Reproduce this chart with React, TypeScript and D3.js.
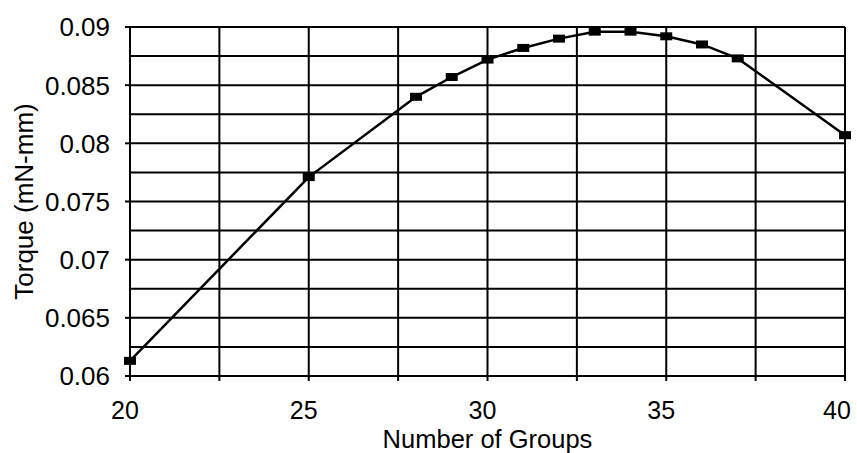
import React from "react";
import * as d3 from "d3";

const groups = [20, 25, 28, 29, 30, 31, 32, 33, 34, 35, 36, 37, 40];
const torque = [0.0613, 0.0771, 0.084, 0.0857, 0.0872, 0.0882, 0.089, 0.0896, 0.0896, 0.0892, 0.0885, 0.0873, 0.0807];
const xTicks = [20, 25, 30, 35, 40];
const xGrid = [20, 22.5, 25, 27.5, 30, 32.5, 35, 37.5, 40];
const yTicks = [0.06, 0.065, 0.07, 0.075, 0.08, 0.085, 0.09];
const yGrid = [0.06, 0.0625, 0.065, 0.0675, 0.07, 0.0725, 0.075, 0.0775, 0.08, 0.0825, 0.085, 0.0875, 0.09];
const yTickLabels = ["0.06", "0.065", "0.07", "0.075", "0.08", "0.085", "0.09"];

const W = 857;
const H = 453;
const left = 130;
const right = 845;
const top = 27;
const bottom = 376;
const font = "'Liberation Sans', Arial, sans-serif";

export default function App() {
  const x = d3.scaleLinear().domain([20, 40]).range([left, right]);
  const y = d3.scaleLinear().domain([0.06, 0.09]).range([bottom, top]);
  const line = d3
    .line<number>()
    .x((_, i) => x(groups[i]))
    .y((d) => y(d));

  return (
    <svg
      width={W}
      height={H}
      style={{ position: "absolute", left: 0, top: 0, background: "#fff" }}
      fontFamily={font}
    >
      <rect x={0} y={0} width={W} height={H} fill="#fff" />
      {yGrid.map((v, i) => (
        <line key={"hy" + i} x1={left} x2={right} y1={y(v)} y2={y(v)} stroke="#000" strokeWidth={2} />
      ))}
      {xGrid.map((v, i) => (
        <line key={"vx" + i} x1={x(v)} x2={x(v)} y1={top} y2={bottom + 5} stroke="#000" strokeWidth={2} />
      ))}
      {yTicks.map((v, i) => (
        <line key={"ty" + i} x1={left - 5} x2={left} y1={y(v)} y2={y(v)} stroke="#000" strokeWidth={2} />
      ))}
      {yTicks.map((v, i) => (
        <text key={"ly" + i} x={110} y={y(v)} dy="0.36em" textAnchor="end" fontSize={26} fill="#000">
          {yTickLabels[i]}
        </text>
      ))}
      {xTicks.map((v, i) => (
        <text
          key={"lx" + i}
          x={Math.min(x(v) - 5, W - 20)}
          y={419}
          textAnchor="middle"
          fontSize={25}
          fill="#000"
        >
          {v}
        </text>
      ))}
      <path d={line(torque) || ""} fill="none" stroke="#000" strokeWidth={2.5} />
      {torque.map((v, i) => (
        <rect key={"m" + i} x={x(groups[i]) - 6} y={y(v) - 4} width={12} height={8} fill="#000" />
      ))}
      <text x={(left + right) / 2} y={447.5} textAnchor="middle" fontSize={25.5} fill="#000">
        Number of Groups
      </text>
      <text
        transform={`translate(33, ${(top + bottom) / 2}) rotate(-90)`}
        textAnchor="middle"
        fontSize={26}
        fill="#000"
      >
        Torque (mN-mm)
      </text>
    </svg>
  );
}
